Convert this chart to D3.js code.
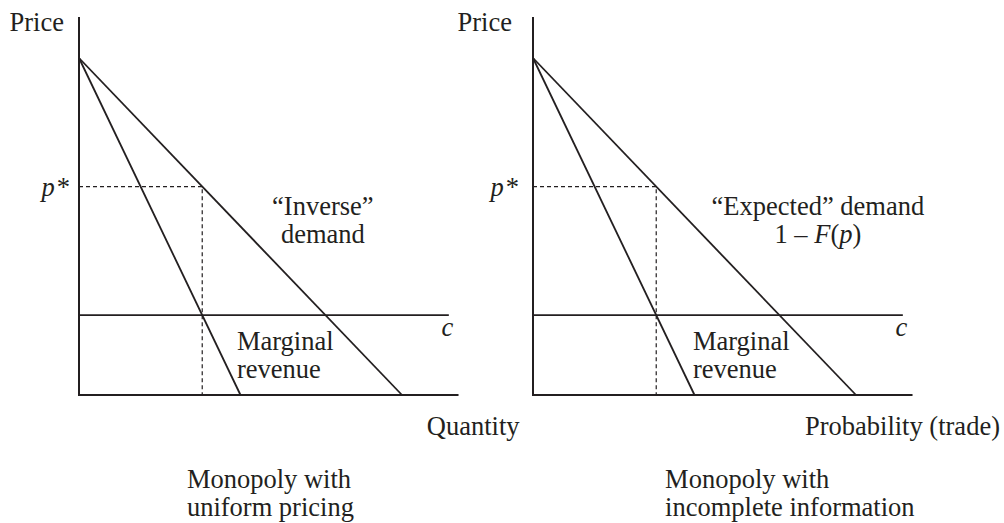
<!DOCTYPE html>
<html>
<head>
<meta charset="utf-8">
<script src="https://cdn.jsdelivr.net/npm/d3@7"></script>
<style>
  body { margin: 0; background: #fff; }
  svg text { font-family: "Liberation Serif", "Times New Roman", serif; font-size: 26.5px; fill: #231f20; }
</style>
</head>
<body>
<div id="chart"></div>
<script>
// price / quantity units: choke price = 1, demand P = 1 - Q
var demandLine = [[0, 1], [1, 0]];
var marginalRevenue = [[0, 1], [0.5, 0]];
var marginalCost = 0.237;

var panelTitles = [["Monopoly with", "uniform pricing"], ["Monopoly with", "incomplete information"]];
var xAxisLabels = ["Quantity", "Probability (trade)"];
var yAxisLabel = "Price";
var demandLabels = [["\u201cInverse\u201d", "demand"], ["\u201cExpected\u201d demand", "1 \u2013 F(p)"]];
var mrLabel = ["Marginal", "revenue"];

var width = 1004, height = 523;
var ink = "#231f20";

var svg = d3.select("#chart").append("svg")
    .attr("width", width)
    .attr("height", height);

// monopoly optimum where MR = c
var qStar = (1 - marginalCost) / 2;
var pStar = 1 - qStar;

var y = d3.scaleLinear().domain([0, 1]).range([395, 58]);

// where each panel sits and where its labels go (in quantity units)
var layout = [
    {left: 79, priceGap: 15, starGap: 9, xLabel: 1.077, demandLbl: 0.755, mrLbl: 0.489, title: 0.334},
    {left: 533, priceGap: 21, starGap: 14, xLabel: 0.842, demandLbl: 0.882, mrLbl: 0.495, title: 0.409}
];

layout.forEach(function(p, i) {
    var x = d3.scaleLinear().domain([0, 1]).range([p.left, p.left + 323]);
    var g = svg.append("g").attr("class", "panel");

    var line = d3.line()
        .x(function(d) { return x(d[0]); })
        .y(function(d) { return y(d[1]); });

    // dashed guides to p*
    g.append("path")
        .attr("d", line([[0, pStar], [qStar, pStar], [qStar, 0]]))
        .attr("fill", "none")
        .attr("stroke", ink)
        .attr("stroke-width", 1.2)
        .attr("stroke-dasharray", "4,3");

    // axes
    g.append("path")
        .attr("d", line([[0, 1.122], [0, 0], [1.175, 0]]))
        .attr("fill", "none")
        .attr("stroke", ink)
        .attr("stroke-width", 2);

    // marginal cost
    g.append("path")
        .attr("d", line([[0, marginalCost], [1.145, marginalCost]]))
        .attr("fill", "none")
        .attr("stroke", ink)
        .attr("stroke-width", 1.8);

    g.append("path")
        .attr("d", line(demandLine))
        .attr("fill", "none")
        .attr("stroke", ink)
        .attr("stroke-width", 1.8);

    g.append("path")
        .attr("d", line(marginalRevenue))
        .attr("fill", "none")
        .attr("stroke", ink)
        .attr("stroke-width", 1.8);

    // labels
    g.append("text")
        .attr("x", x(0) - p.priceGap)
        .attr("y", 31)
        .attr("text-anchor", "end")
        .text(yAxisLabel);

    var ps = g.append("text")
        .attr("x", x(0) - p.starGap)
        .attr("y", y(pStar) + 9)
        .attr("text-anchor", "end");
    ps.append("tspan").style("font-style", "italic").text("p");
    ps.append("tspan").attr("dx", 2).text("*");

    g.append("text")
        .attr("x", x(1.15) - 3)
        .attr("y", y(marginalCost) + 21)
        .attr("text-anchor", "middle")
        .style("font-style", "italic")
        .text("c");

    g.append("text")
        .attr("x", x(p.xLabel))
        .attr("y", 435)
        .text(xAxisLabels[i]);

    var mr = g.append("text")
        .attr("x", x(p.mrLbl))
        .attr("y", 350);
    mr.append("tspan").text(mrLabel[0]);
    mr.append("tspan").attr("x", x(p.mrLbl)).attr("dy", 28).text(mrLabel[1]);

    var dl = g.append("text")
        .attr("x", x(p.demandLbl))
        .attr("y", 215)
        .attr("text-anchor", "middle");
    dl.append("tspan").text(demandLabels[i][0]);
    if (i === 0) {
        dl.append("tspan").attr("x", x(p.demandLbl)).attr("dy", 28).text(demandLabels[i][1]);
    } else {
        // 1 – F(p) with italic symbols
        dl.append("tspan").attr("x", x(p.demandLbl)).attr("dy", 28).text("1 \u2013 ");
        dl.append("tspan").style("font-style", "italic").text("F");
        dl.append("tspan").text("(");
        dl.append("tspan").style("font-style", "italic").text("p");
        dl.append("tspan").text(")");
    }

    var tt = g.append("text")
        .attr("x", x(p.title))
        .attr("y", 488);
    tt.append("tspan").text(panelTitles[i][0]);
    tt.append("tspan").attr("x", x(p.title)).attr("dy", 28).text(panelTitles[i][1]);
});
</script>
</body>
</html>
